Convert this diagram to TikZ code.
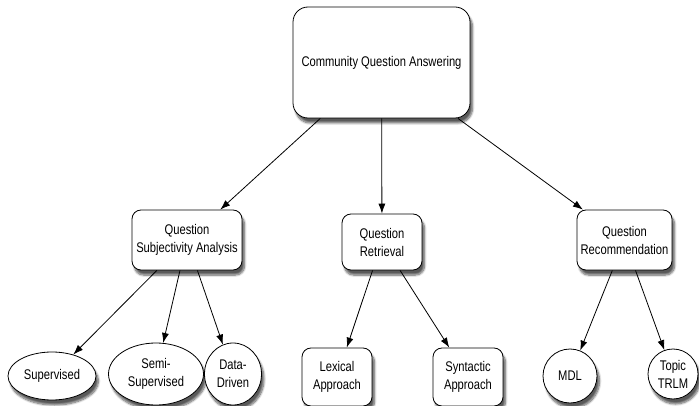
\documentclass[tikz,border=0pt]{standalone}
\usepackage{fontspec}
\setmainfont{Liberation Sans}[FakeStretch=0.8]
\usepackage{tikz}
\usetikzlibrary{shapes.geometric,shadows.blur,arrows.meta}

\begin{document}
\begin{tikzpicture}[x=1pt,y=-1pt,line width=0.8pt,>={Latex[length=10pt,width=7pt]},
  font=\fontsize{14}{18}\selectfont,
  shade/.style={blur shadow={shadow xshift=2.5pt,shadow yshift=-5pt,shadow blur steps=8,shadow opacity=65}},
  topbox/.style={draw,fill=white,rounded corners=15pt,align=center,inner sep=0pt,shade},
  catbox/.style={draw,fill=white,rounded corners=9pt,align=center,inner sep=0pt,shade},
  leaf/.style={draw,fill=white,ellipse,align=center,inner sep=0pt,shade},
  round/.style={draw,fill=white,circle,align=center,inner sep=0pt,shade}]
\useasboundingbox (0,0) rectangle (699,406);

% Root
\node[topbox,minimum width=177pt,minimum height=111pt] (cqa) at (381.5,62.5) {Community Question Answering};

% Categories
\node[catbox,minimum width=110pt,minimum height=60pt] (qsa) at (187,240) {Question\\Subjectivity Analysis};
\node[catbox,minimum width=80pt,minimum height=56pt] (qr) at (382,242) {Question\\Retrieval};
\node[catbox,minimum width=95pt,minimum height=60pt] (qrec) at (624.5,240) {Question\\Recommendation};

% Leaves of subjectivity analysis
\node[leaf,minimum width=88pt,minimum height=48pt] (sup) at (52,376) {Supervised};
\node[leaf,minimum width=95pt,minimum height=62pt] (semi) at (156,374) {Semi-\\Supervised};
\node[leaf,minimum width=57pt,minimum height=62pt] (data) at (233,374) {Data-\\Driven};

% Leaves of retrieval
\node[catbox,minimum width=70pt,minimum height=58pt] (lex) at (337,377) {Lexical\\Approach};
\node[catbox,minimum width=70pt,minimum height=58pt] (syn) at (468,377) {Syntactic\\Approach};

% Leaves of recommendation
\node[round,minimum size=54pt] (mdl) at (570,376) {MDL};
\node[round,minimum size=50pt] (trlm) at (673,374) {Topic\\TRLM};

% Connectors
\draw[->] (cqa) -- (qsa);
\draw[->] (cqa) -- (qr);
\draw[->] (cqa) -- (qrec);
\draw[->] (qsa) -- (sup);
\draw[->] (qsa) -- (semi);
\draw[->] (qsa) -- (data);
\draw[->] (qr) -- (lex);
\draw[->] (qr) -- (syn);
\draw[->] (qrec) -- (mdl);
\draw[->] (qrec) -- (trlm);
\end{tikzpicture}
\end{document}
